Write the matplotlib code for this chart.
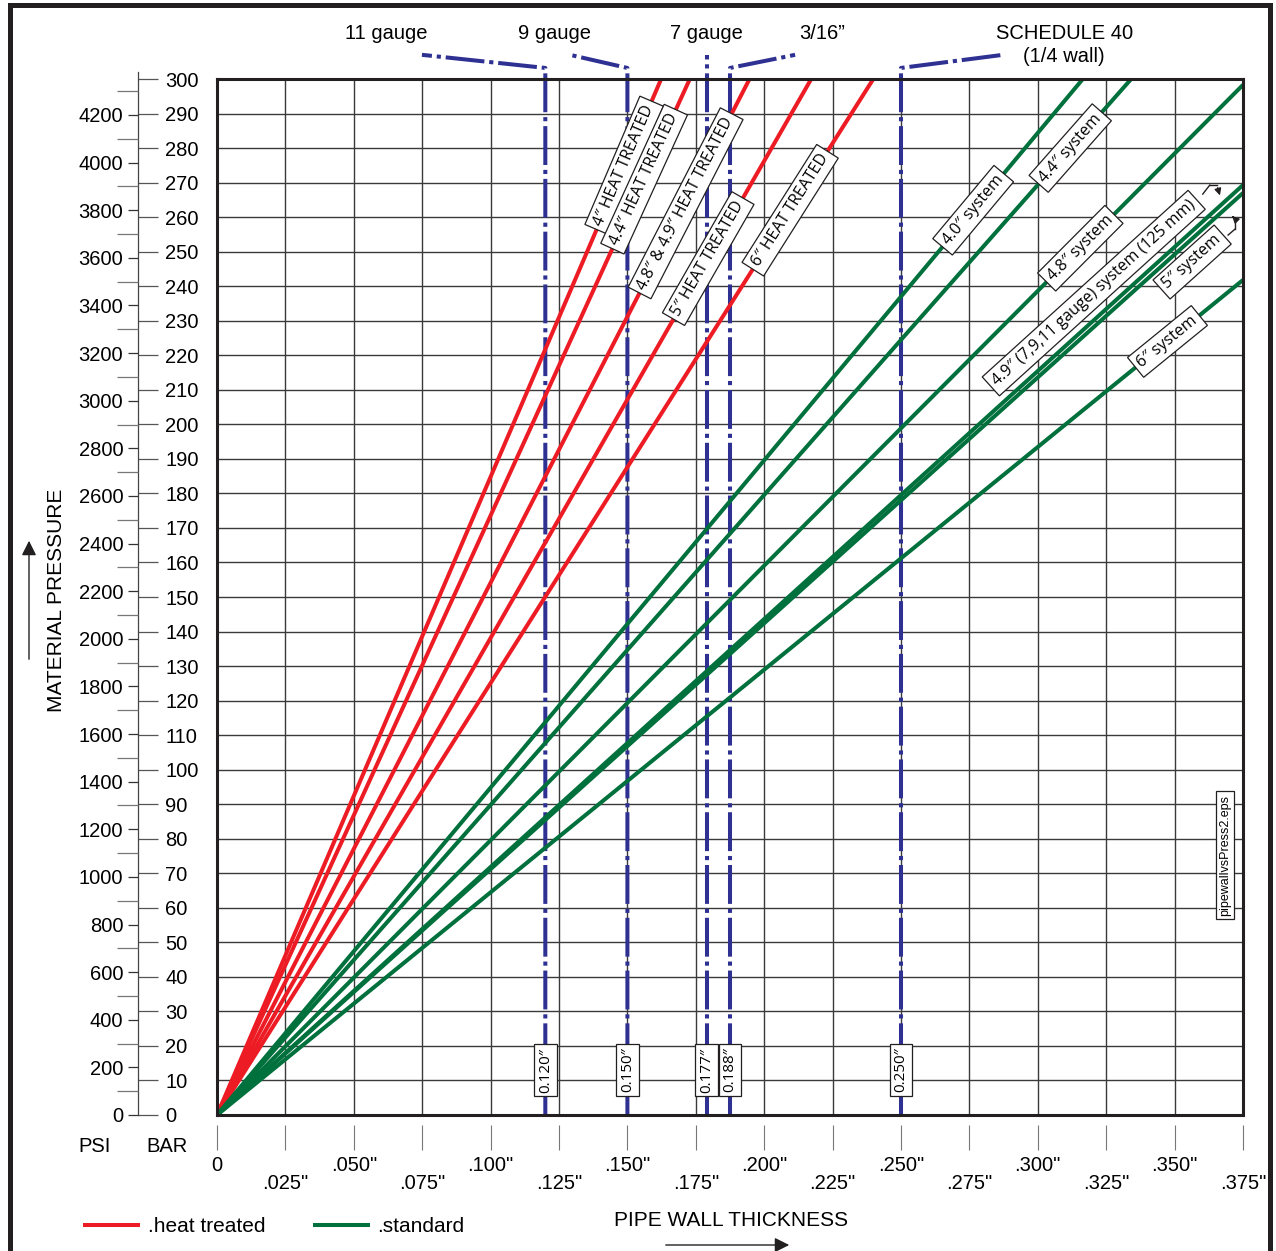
"""Pipe wall thickness vs. material pressure chart."""

import numpy as np
import matplotlib
matplotlib.use("Agg")
import matplotlib.pyplot as plt
import matplotlib.transforms as mtransforms
from matplotlib.patches import Rectangle

plt.rcParams['font.family'] = ['Liberation Sans', 'DejaVu Sans']
plt.rcParams['lines.scale_dashes'] = False

BAR_TO_PSI = 14.5038

# axes values
thickness_ticks = np.arange(0, 0.3751, 0.025)
thickness_labels = ['0', '.025"', '.050"', '.075"', '.100"', '.125"', '.150"', '.175"',
                    '.200"', '.225"', '.250"', '.275"', '.300"', '.325"', '.350"', '.375"']
bar_ticks = np.arange(0, 301, 10)
psi_major = np.arange(0, 4201, 200)
psi_minor = np.arange(100, 4301, 200)

# pressure (bar) each pipe line would reach at a .375" wall
heat_treated_names = ['4″ HEAT TREATED', '4.4″ HEAT TREATED', '4.8″ & 4.9″ HEAT TREATED',
                      '5″ HEAT TREATED', '6″ HEAT TREATED']
heat_treated_bar = [693, 651, 578, 518, 469]
standard_names = ['4.0″ system', '4.4″ system', '4.8″ system',
                  '4.9″ (7,9,11 gauge) system (125 mm)', '5″ system', '6″ system']
standard_bar = [355.5, 336.7, 298.3, 269.3, 267.0, 241.8]

# reference wall thicknesses
gauge_names = ['11 gauge', '9 gauge', '7 gauge', '3/16”', 'SCHEDULE 40\n(1/4 wall)']
gauge_thickness = [0.120, 0.150, 0.179, 0.1875, 0.250]
gauge_tags = ['0.120″', '0.150″', '0.177″', '0.188″', '0.250″']

# label placement (pressure level along each line, sideways shift in points)
ht_label_level = [275, 271, 264, 248, 262]
std_label_level = [262, 280, 251, 238, 247, 224]
std_label_shift = [0, 0, 0, -21.6, 18.7, 0]
gauge_text_x = [0.0618, 0.1235, 0.179, 0.2211, 0.3096]
gauge_text_y = [313.1, 313.1, 313.1, 313.1, 309.9]
gauge_leader_x = [0.0749, 0.129, 0.179, 0.2113, 0.2873]

RED = '#ed1c24'
GREEN = '#00703c'
NAVY = '#2e3192'
INK = '#231f20'
W, H = 1276, 1251


def fx(px):
    return px / W


def fy(py):
    return 1 - py / H


fig = plt.figure(figsize=(W / 100, H / 100), dpi=100)
fig.patches.append(Rectangle((fx(10), fy(1300)), fx(1260), fy(5) - fy(1300),
                             transform=fig.transFigure, fill=False, ec=INK, lw=3.6))

rect = [fx(217), fy(1115), fx(1026), 1036 / H]
ax = fig.add_axes(rect)
ax.set_xlim(0, 0.375)
ax.set_ylim(0, 300)
ax.set_xticks(thickness_ticks)
ax.set_yticks(bar_ticks)
ax.tick_params(length=0, labelbottom=False, labelleft=False)
ax.grid(True, color='#3a3a3a', lw=1.0)
ax.set_axisbelow(True)
for s in ax.spines.values():
    s.set_linewidth(2.2)
    s.set_color(INK)
    s.set_zorder(6)

dash = (28, 3.5, 3, 3.5)

# reference wall thickness lines
for name, t, tag, tx, ty, lx in zip(gauge_names, gauge_thickness, gauge_tags,
                                    gauge_text_x, gauge_text_y, gauge_leader_x):
    if abs(lx - t) < 1e-6:
        xs, ys = [t, t], [0, 307.0]
    else:
        xs, ys = [t, t, lx], [0, 303.2, 307.0]
    ln, = ax.plot(xs, ys, color=NAVY, lw=2.9, clip_on=False, zorder=2)
    ln.set_dashes(dash)
    ax.text(tx, ty, name, ha='center', va='center', fontsize=14.5, linespacing=1.25)
    ax.text(t, 13.0, tag, rotation=90, ha='center', va='center', fontsize=11,
            family=['Open Sans', 'DejaVu Sans'], zorder=7,
            bbox=dict(boxstyle='square,pad=0.25', fc='white', ec=INK, lw=0.9))

xx = np.array([0, 0.375])
ht_lines = []
for p in heat_treated_bar:
    ln, = ax.plot(xx, xx / 0.375 * p, color=RED, lw=2.9, zorder=3, solid_capstyle='butt')
    ht_lines.append(ln)
std_lines = []
for p in standard_bar:
    ln, = ax.plot(xx, xx / 0.375 * p, color=GREEN, lw=2.9, zorder=3, solid_capstyle='butt')
    std_lines.append(ln)


def line_angle(p):
    a = ax.transData.transform((0, 0))
    b = ax.transData.transform((0.375, p))
    return np.degrees(np.arctan2(b[1] - a[1], b[0] - a[0]))


box = dict(boxstyle='square,pad=0.3', fc='white', ec=INK, lw=0.9)
for name, p, lvl in zip(heat_treated_names, heat_treated_bar, ht_label_level):
    ax.annotate(name, xy=(lvl * 0.375 / p, lvl), xytext=(0, 0), textcoords='offset points',
                rotation=line_angle(p), rotation_mode='anchor', ha='center', va='center',
                fontsize=11.5, family=['Open Sans', 'DejaVu Sans'], bbox=box, zorder=8)

centers = []
for name, p, lvl, sh in zip(standard_names, standard_bar, std_label_level, std_label_shift):
    ax.annotate(name, xy=(lvl * 0.375 / p, lvl), xytext=(sh, 0), textcoords='offset points',
                rotation=line_angle(p), rotation_mode='anchor', ha='center', va='center',
                fontsize=11.5, family=['Open Sans', 'DejaVu Sans'], bbox=box, zorder=8)
    c = ax.transData.transform((lvl * 0.375 / p, lvl))
    centers.append((c[0] + sh * 100 / 72, c[1]))

# small bracket arrows for the two crowded lines (offsets in pixels, y up)
ident = mtransforms.IdentityTransform()
for idx, pts in [(3, [(109, 99), (116, 108), (123, 108), (127, 95)]),
                 (4, [(36, 27), (43, 33), (43, 43), (38, 48)])]:
    cx, cy = centers[idx]
    path = [(cx + dx, cy + dy) for dx, dy in pts]
    for a, b in zip(path[:-2], path[1:-1]):
        ax.plot([a[0], b[0]], [a[1], b[1]], color=INK, lw=1.0, transform=ident,
                clip_on=False, zorder=9)
    ax.annotate('', xy=path[-1], xytext=path[-2], xycoords=ident, textcoords=ident,
                arrowprops=dict(arrowstyle='-|>', color=INK, lw=1.0, mutation_scale=10),
                zorder=9)

fig.text(fx(1225), fy(855), 'pipewallvsPress2.eps', rotation=90, ha='center', va='center',
         fontsize=9, bbox=dict(boxstyle='square,pad=0.25', fc='white', ec=INK, lw=0.9),
         zorder=10)

# detached thickness ticks below the chart
ax_x = fig.add_axes([fx(217), fy(1150), fx(1026), 1e-4])
ax_x.set_xlim(0, 0.375)
ax_x.set_yticks([])
for s in ax_x.spines.values():
    s.set_visible(False)
ax_x.set_xticks(thickness_ticks)
ax_x.set_xticklabels([lab if i % 2 == 0 else '\n' + lab
                      for i, lab in enumerate(thickness_labels)])
ax_x.tick_params(axis='x', direction='in', length=18, width=0.8, color='#777',
                 pad=4, labelsize=14.5)
for t in ax_x.get_xticklabels():
    t.set_linespacing(0.95)

# BAR / PSI scales
top_bar = 302
rect_s = [fx(138), fy(1115), 1e-4, 1036 / H * top_bar / 300]
ax_b = fig.add_axes(rect_s)
ax_b.set_ylim(0, top_bar)
ax_b.set_xticks([])
for k, s in ax_b.spines.items():
    s.set_visible(k == 'left')
ax_b.spines['left'].set_linewidth(0.9)
ax_b.spines['left'].set_color('#444')
ax_b.yaxis.tick_right()
ax_b.set_yticks(bar_ticks)
ax_b.tick_params(axis='y', direction='out', length=14.4, width=0.9, color='#555',
                 pad=5, labelsize=14.5)

ax_p = fig.add_axes(rect_s, frameon=False)
ax_p.set_ylim(0, top_bar * BAR_TO_PSI)
ax_p.set_xticks([])
ax_p.yaxis.tick_left()
ax_p.set_yticks(psi_major)
ax_p.set_yticks(psi_minor, minor=True)
ax_p.tick_params(axis='y', which='major', direction='out', length=7.2, width=0.9,
                 color='#333', pad=3.5, labelsize=14.5)
ax_p.tick_params(axis='y', which='minor', direction='out', length=15, width=0.9,
                 color='#777')

fig.text(fx(95), fy(1147), 'PSI', ha='center', va='center', fontsize=14.5)
fig.text(fx(167), fy(1147), 'BAR', ha='center', va='center', fontsize=14.5)

fig.text(fx(57), fy(600), 'MATERIAL PRESSURE', rotation=90, ha='center', va='center',
         fontsize=15)
fig.text(fx(731), fy(1221), 'PIPE WALL THICKNESS', ha='center', va='center', fontsize=15)
arrow = dict(arrowstyle='-|>', color=INK, lw=1.0, mutation_scale=22)
fig.add_artist(plt.Annotation('', xy=(fx(29), fy(538)), xytext=(fx(29), fy(662)),
                              xycoords='figure fraction', arrowprops=arrow))
fig.add_artist(plt.Annotation('', xy=(fx(792), fy(1245)), xytext=(fx(663), fy(1245)),
                              xycoords='figure fraction', arrowprops=arrow))

fig.legend(handles=[ht_lines[0], std_lines[0]], labels=['.heat treated', '.standard'],
           loc='center left', bbox_to_anchor=(fx(83), fy(1227)), ncol=2, frameon=False,
           fontsize=15, handlelength=2.75, handletextpad=0.35, columnspacing=2.3,
           borderpad=0, borderaxespad=0)

fig.savefig('out.png', dpi=100)
